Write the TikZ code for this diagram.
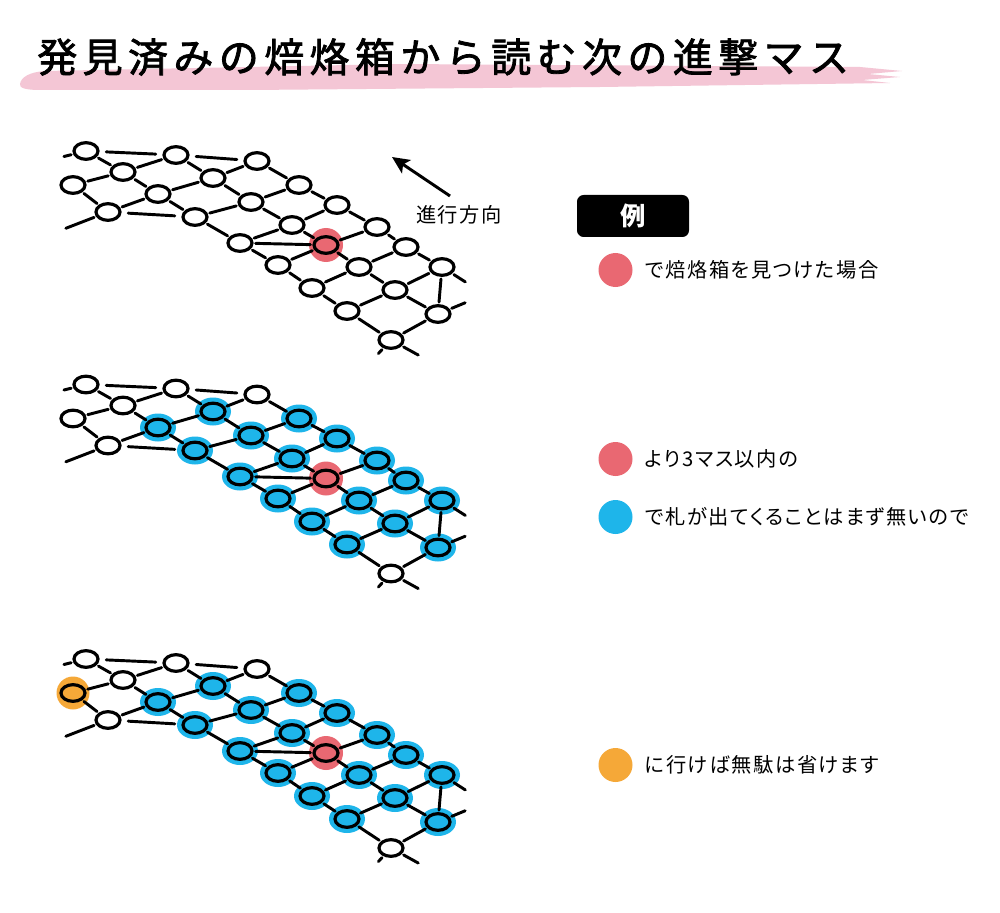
\documentclass[tikz,border=0pt]{standalone}
\usepackage{fontspec}
\setmainfont{Noto Sans CJK JP}
\newfontfamily\titlefont[LetterSpace=13.5,FakeBold=2]{Noto Sans CJK JP}
\newfontfamily\notefont[RawFeature=+palt,LetterSpace=8]{Noto Sans CJK JP}
\usetikzlibrary{positioning,shapes.geometric,arrows.meta,backgrounds}

\definecolor{hitred}{RGB}{233,104,114}
\definecolor{hitblue}{RGB}{30,181,234}
\definecolor{hitorange}{RGB}{245,168,56}
\definecolor{brushpink}{RGB}{244,198,213}

\tikzset{
  cell/.style={ellipse, draw, line width=2.4pt, inner sep=0pt, minimum width=18pt, minimum height=12.5pt},
  link/.style={line width=2.2pt, line cap=round, shorten <=1.5pt, shorten >=1.5pt},
  gap/.style={shorten <=5pt, shorten >=5pt},
  dot/.style={circle, inner sep=0pt, minimum size=25.5pt},
  note/.style={font=\notefont\fontsize{15.2}{18}\selectfont, inner sep=0pt, anchor=west},
}

\begin{document}
\begin{tikzpicture}[x=0.75pt, y=-0.75pt]
    \useasboundingbox (0,0) rectangle (1000,913);
    \begin{scope}[on background layer]
        \fill[white] (0,0) rectangle (1000,913);
    \end{scope}

    % Title with brush stroke
    \fill[brushpink] (20,84) .. controls (21,77) and (30,72) .. (45,71) -- (400,64) -- (860,67)
        -- (902,71) -- (868,74) -- (900,77) -- (862,80) -- (890,83) -- (600,87) -- (250,90)
        -- (40,90) .. controls (26,90) and (19,88) .. (20,84) -- cycle;
    \node[anchor=west, inner sep=0pt, font=\titlefont\fontsize{30}{34}\selectfont] (title) at (37,57)
        {発見済みの焙烙箱から読む次の進撃マス};

    % Three copies of the lattice
    \foreach \p/\dy in {A/0, B/233.5, C/508}{
        \foreach \n/\x/\y in {a1/86/151, a2/176/155, a3/257/161, b1/123/172, b2/213/178,
            c1/73/185, c2/158/194, c3/251/202, d1/108/212, d2/195/217, e1/240/243,
            f1/299/185, f2/337/205, g1/292/225, f3/377/227, r/326/245, h1/406/247,
            j1/278/265, j2/359/267, j3/442/267, k1/312/288, k2/395/290, l1/347/311,
            l2/438/314, m1/391/340}
            \node[cell] (\p\n) at (\x,{\y+\dy}) {};
        \foreach \s/\t in {a1/b1, a2/b2, b1/a2, c1/b1, b1/c2, b2/a3, b2/c3, c2/b2,
            c1/d1, c2/d2, d1/c2, d2/c3, d2/e1, a3/f1, c3/f1, f1/f2, c3/g1, g1/f2,
            f2/f3, g1/r, e1/g1, e1/r, r/f3, f3/h1, e1/j1, j1/r, r/j2, h1/j3, j2/h1,
            j1/k1, k1/j2, j2/k2, k2/j3, j3/l2, k1/l1, l1/k2, k2/l2, l1/m1, m1/l2}
            \draw[link] (\p\s) -- (\p\t);
        \foreach \s/\t in {a1/a2, a2/a3, d1/d2}
            \draw[link, gap] (\p\s) -- (\p\t);
        % loose ends at the border
        \foreach \s/\i/\x/\y in {a1/1/62/157, d1/2/64/229, j3/3/467/283, l2/4/467/302,
            m1/5/377/355, m1/6/420/356}{
            \coordinate (\p end\i) at (\x,{\y+\dy});
            \draw[link] (\p\s) -- (\p end\i);
        }
    }

    % Highlighted cells
    \begin{scope}[on background layer]
        \foreach \p in {A,B,C}
            \fill[hitred] (\p r) circle [radius=17];
        \foreach \p in {B,C}
            \foreach \n in {b2,c2,c3,d2,e1,f1,f2,f3,g1,h1,j1,j2,j3,k1,k2,l1,l2}
                \fill[hitblue] (\p\n) ellipse [x radius=18, y radius=14];
        \fill[hitorange] (Cc1) circle [radius=16.5];
    \end{scope}

    % Direction of travel
    \node[note, anchor=center] (dir) at (459,215) {進行方向};
    \coordinate (tail) at (450,196);
    \coordinate (head) at (392,157);
    \draw[-{Stealth[length=13pt, width=12pt, inset=3pt]}, line width=2.2pt] (tail) -- (head);

    % Legend
    \node[fill=black, rounded corners=5pt, minimum width=84pt, minimum height=31.5pt, inner sep=0pt,
        text=white, font=\fontsize{19}{22}\selectfont\bfseries] (ex) at (633,216) {例};

    \node[dot, fill=hitred] (dot1) at (615.5,270) {};
    \node[note, right=9pt of dot1] (txt1) {で焙烙箱を見つけた場合};

    \node[dot, fill=hitred] (dot2) at (615.5,459) {};
    \node[note, right=9pt of dot2] (txt2) {より3マス以内の};
    \node[dot, fill=hitblue] (dot3) at (615.5,517) {};
    \node[note, right=9pt of dot3] (txt3) {で札が出てくることはまず無いので};

    \node[dot, fill=hitorange] (dot4) at (615.5,765) {};
    \node[note, right=9pt of dot4] (txt4) {に行けば無駄は省けます};
\end{tikzpicture}
\end{document}
